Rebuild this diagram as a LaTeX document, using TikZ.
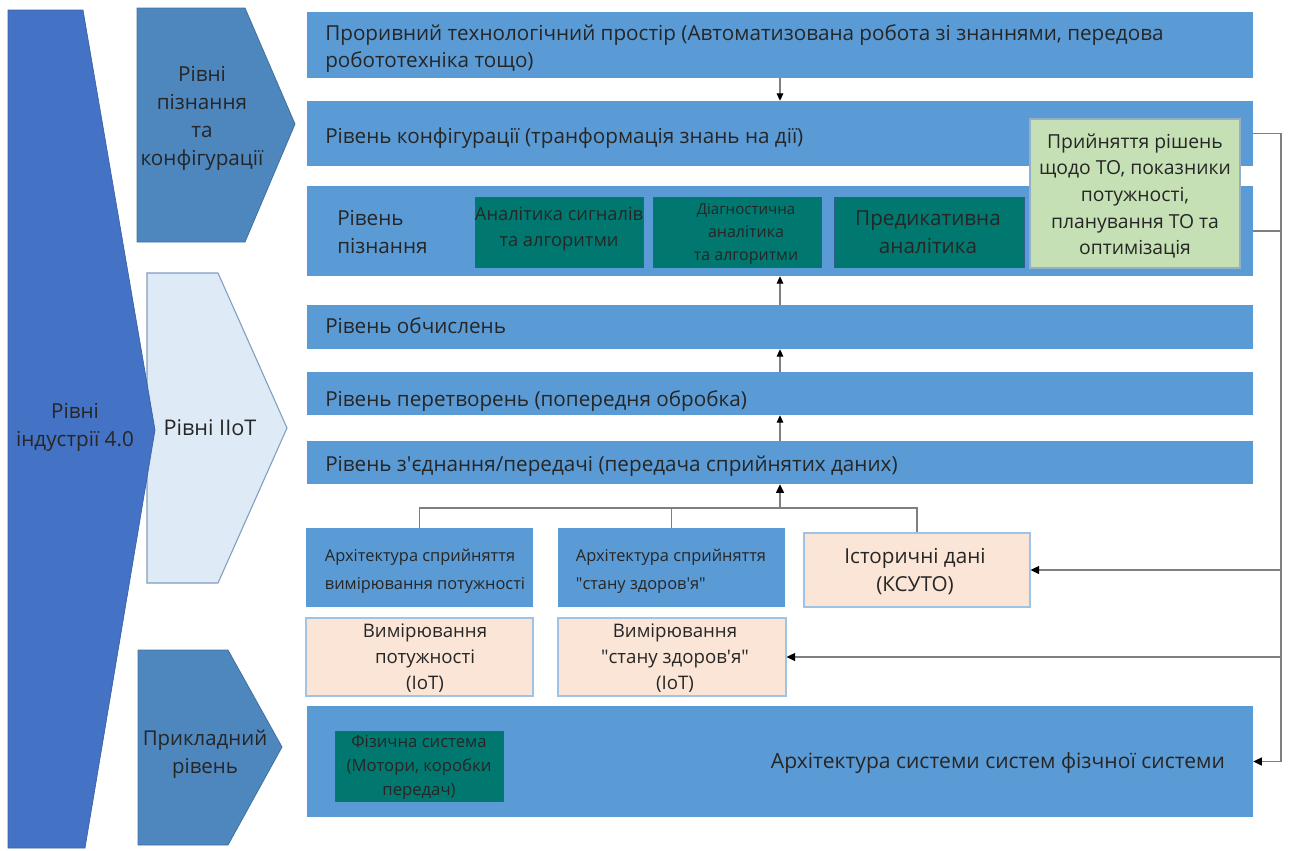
\documentclass[tikz,border=0pt]{standalone}
\usepackage{fontspec}
\setmainfont{Open Sans}
\usetikzlibrary{fit,arrows.meta}

\definecolor{bigblue}{HTML}{4472C4}
\definecolor{chevblue}{HTML}{4E86BE}
\definecolor{chevedge}{HTML}{41719C}
\definecolor{iiotfill}{HTML}{DEEBF7}
\definecolor{iiotedge}{HTML}{7F9CC2}
\definecolor{bandblue}{HTML}{5B9BD5}
\definecolor{tealbox}{HTML}{00786F}
\definecolor{tealedge}{HTML}{2E5E8C}
\definecolor{decgreen}{HTML}{C5E0B4}
\definecolor{peach}{HTML}{FBE5D6}
\definecolor{peachedge}{HTML}{9DC3E6}
\definecolor{linegray}{HTML}{7F7F7F}
\definecolor{ink}{HTML}{262626}

\newcommand\fsBand{\fontsize{15.5}{21}\selectfont}
\newcommand\fsSmall{\fontsize{12.3}{21}\selectfont}
\newcommand\fsTeal{\fontsize{13.7}{19.5}\selectfont}
\newcommand\fsTiny{\fontsize{12}{17}\selectfont}
\newcommand\qd{\textquotedbl}
\newcommand\qs{\textquotesingle}

\begin{document}
\begin{tikzpicture}[x=0.75pt,y=-0.75pt,
  band/.style={fill=bandblue, draw=none, inner sep=0pt},
  teal/.style={fill=tealbox, draw=tealedge, line width=0.6pt, inner sep=0pt},
  dec/.style={fill=decgreen, draw=peachedge!70!gray, line width=0.8pt, inner sep=0pt},
  warm/.style={fill=peach, draw=peachedge, line width=0.8pt, inner sep=0pt},
  txt/.style={text=ink, inner sep=0pt, font=\fsBand},
  chev/.style={fill=chevblue, draw=chevedge, line width=0.6pt},
  conn/.style={draw=linegray, line width=1.1pt},
  arr/.style={draw=linegray, line width=0.8pt, -{Triangle[length=5.5pt,width=5pt,color=black]}},
  arrb/.style={draw=linegray, line width=1.1pt, -{Triangle[length=6.5pt,width=6pt,color=black]}}
]
\useasboundingbox (0,0) rectangle (1289,850);

% left-hand level shapes
\path[fill=iiotfill, draw=iiotedge, line width=0.8pt]
  (147,273) -- (218,273) -- (287,428) -- (218,583) -- (147,583) -- cycle;
\path[fill=bigblue, draw=bigblue!85!black, line width=0.5pt]
  (8,10) -- (83,10) -- (155,430) -- (85,848) -- (8,848) -- cycle;
\path[chev] (137,8) -- (245,8) -- (295,124) -- (245,242) -- (137,242) -- cycle;
\path[chev] (138,650) -- (228,650) -- (282,747) -- (228,845) -- (138,845) -- cycle;

\node[txt, align=center, font=\fontsize{15.5}{21}\selectfont] (ind) at (75,427) {Рівні\\індустрії 4.0};
\node[txt, align=center, font=\fontsize{15.5}{21}\selectfont] (cog) at (202,118) {Рівні\\пізнання\\та\\конфігурації};
\node[txt, font=\fontsize{16.2}{21}\selectfont] (iiot) at (210,428) {Рівні IIoT};
\node[txt, align=center, font=\fontsize{15.3}{21}\selectfont] (app) at (205,754) {Прикладний\\рівень};

% horizontal layer bands
\node[band, fit={(307,12) (1253,78)}] (top) {};
\node[band, fit={(307,101) (1253,166)}] (conf) {};
\node[band, fit={(307,186) (1253,276)}] (cogn) {};
\node[band, fit={(307,305) (1253,349)}] (comp) {};
\node[band, fit={(307,372) (1253,415)}] (conv) {};
\node[band, fit={(307,441) (1253,484)}] (link) {};
\node[band, fit={(307,706) (1253,817)}] (sys) {};

\node[txt, anchor=west, align=left, font=\fontsize{15.5}{20.5}\selectfont] (topt) at (325,48.5)
  {Проривний технологічний простір (Автоматизована робота зі знаннями, передова\\робототехніка тощо)};
\node[txt, anchor=west] (conft) at (325,138) {Рівень конфігурації (транформація знань на дії)};
\node[txt, anchor=west, align=left] (cognt) at (337,232) {Рівень\\пізнання};
\node[txt, anchor=west] (compt) at (325,326) {Рівень обчислень};
\node[txt, anchor=west] (convt) at (325,401) {Рівень перетворень (попередня обробка)};
\node[txt, anchor=west] (linkt) at (325,466) {Рівень з\qs єднання/передачі (передача сприйнятих даних)};
\node[txt, font=\fontsize{15.8}{21}\selectfont] (syst) at (998,763) {Архітектура системи систем фізчної системи};

% analytics boxes in the cognition layer
\node[teal, fit={(475,197) (643,267)}] (t1) {};
\node[txt, font=\fsTeal, align=center] at (559,229) {Аналітика сигналів\\та алгоритми};
\node[teal, fit={(653,197) (821,267)}] (t2) {};
\node[txt, font=\fsTiny, align=center] at (746,234) {{\fontsize{11.3}{17}\selectfont Діагностична}\\аналітика\\та алгоритми};
\node[teal, fit={(834,197) (1024,267)}] (t3) {};
\node[txt, font=\fontsize{15.5}{21}\selectfont, align=center] at (928,232) {Предикативна\\аналітика};
\node[dec, fit={(1030,119) (1240,268)}] (dbox) {};
\node[txt, align=center, font=\fontsize{14.5}{20}\selectfont] (dtext) at (1135,196)
  {Прийняття рішень\\щодо ТО, показники\\потужності,\\планування ТО та\\оптимізація};

% sensing architecture and data sources
\node[band, fit={(306,528) (533,607)}] (a1) {};
\node[txt, font=\fsSmall, align=left] at (425,571) {Архітектура сприйняття\\вимірювання потужності};
\node[band, fit={(558,528) (785,607)}] (a2) {};
\node[txt, font=\fsSmall, align=left] at (671,571) {Архітектура сприйняття\\\qd стану здоров\qs я\qd};
\node[warm, fit={(804,533) (1030,607)}] (hist) {};
\node[txt, align=center, font=\fontsize{15.5}{21}\selectfont] at (915,572) {Історичні дані\\(КСУТО)};
\node[warm, fit={(306,618) (533,696)}] (m1) {};
\node[txt, align=center, font=\fontsize{14}{19.5}\selectfont] at (425,658) {Вимірювання\\потужності\\(IoT)};
\node[warm, fit={(558,618) (786,696)}] (m2) {};
\node[txt, align=center, font=\fontsize{14}{19.5}\selectfont] at (675,658) {Вимірювання\\\qd стану здоров\qs я\qd\\(IoT)};

% physical system
\node[teal, fit={(335,731) (503,801)}] (phys) {};
\node[txt, font=\fontsize{12.5}{18}\selectfont, align=center] at (419,767) {Фізична система\\(Мотори, коробки\\передач)};

% vertical data flow between layers
\coordinate (ax) at (780,0);
\draw[arr] (top.south -| ax) -- (conf.north -| ax);
\draw[arr] (comp.north -| ax) -- (cogn.south -| ax);
\draw[arr] (conv.north -| ax) -- (comp.south -| ax);
\draw[arr] (link.north -| ax) -- (conv.south -| ax);

% collection bus from the sensing boxes
\coordinate (bus) at (780,508);
\draw[conn] (a1.north) -- (a1.north |- bus) -- (hist.north |- bus) -- (hist.north);
\draw[conn] (a2.north) -- (a2.north |- bus);
\draw[arrb] (bus) -- (link.south -| bus);

% feedback from the decision levels
\coordinate (rx) at (1281,0);
\draw[conn] (cogn.east) -- (cogn.east -| rx);
\draw[arrb] (conf.east) -- (conf.east -| rx) -- (sys.east -| rx) -- (sys.east);
\draw[arrb] (hist.east -| rx) -- (hist.east);
\draw[arrb] (m2.east -| rx) -- (m2.east);
\end{tikzpicture}
\end{document}
